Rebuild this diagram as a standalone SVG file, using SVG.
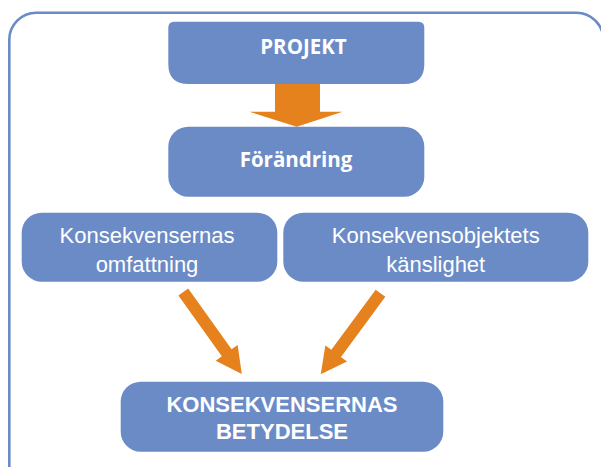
<svg xmlns="http://www.w3.org/2000/svg" width="601" height="467" viewBox="0 0 601 467">
  <style>
    .box { fill: #6B8BC6; }
    .frame { fill: none; stroke: #6B8BC6; stroke-width: 2.6; }
    .arrow { fill: #E5821D; }
    .t1 { font-family: "Open Sans", "Liberation Sans", sans-serif; font-weight: bold; font-size: 20.5px; fill: #FFFFFF; text-anchor: middle; }
    .t2 { font-family: "Liberation Sans", Arial, sans-serif; font-size: 22px; fill: #FFFFFF; text-anchor: middle; }
    .t3 { font-family: "Liberation Sans", Arial, sans-serif; font-weight: bold; font-size: 22px; fill: #FFFFFF; text-anchor: middle; }
  </style>
  <rect class="frame" x="9.3" y="12.7" width="594" height="500" rx="27" ry="27"/>
  <g id="connectors">
    <polygon class="arrow" points="275,83 320,83 320,111.7 342.7,111.7 296.7,126.7 249.3,111.7 275,111.7"/>
    <polygon class="arrow" transform="translate(183.3,292) rotate(54.5)" points="0,-6 74.7,-6 74.7,-13.5 100.7,0 74.7,13.5 74.7,6 0,6"/>
    <polygon class="arrow" transform="translate(380.5,293.3) rotate(126.4)" points="0,-6 74.7,-6 74.7,-13.5 100.7,0 74.7,13.5 74.7,6 0,6"/>
  </g>
  <g id="projekt">
    <path class="box" d="M174,21.7 H418.3 Q424.3,21.7 424.3,27.7 V64 Q424.3,84 404.3,84 H188.3 Q168.3,84 168.3,64 V27.7 Q168.3,21.7 174,21.7 Z"/>
    <text class="t1" x="303.5" y="54">PROJEKT</text>
  </g>
  <g id="forandring">
    <rect class="box" x="168.3" y="126.7" width="256" height="70" rx="20" ry="20"/>
    <text class="t1" x="296" y="166.7">Förändring</text>
  </g>
  <g id="omfattning">
    <rect class="box" x="21.7" y="212.7" width="255.6" height="69" rx="20" ry="20"/>
    <text class="t2" x="147" y="242.7">Konsekvensernas</text>
    <text class="t2" x="147" y="271.7">omfattning</text>
  </g>
  <g id="kanslighet">
    <rect class="box" x="283.3" y="212.7" width="305" height="69" rx="20" ry="20"/>
    <text class="t2" x="435.7" y="242.7">Konsekvensobjektets</text>
    <text class="t2" x="435.7" y="271.7">känslighet</text>
  </g>
  <g id="betydelse">
    <rect class="box" x="120.7" y="381.7" width="322.6" height="70" rx="20" ry="20"/>
    <text class="t3" x="282" y="412.3">KONSEKVENSERNAS</text>
    <text class="t3" x="282" y="439">BETYDELSE</text>
  </g>
</svg>
